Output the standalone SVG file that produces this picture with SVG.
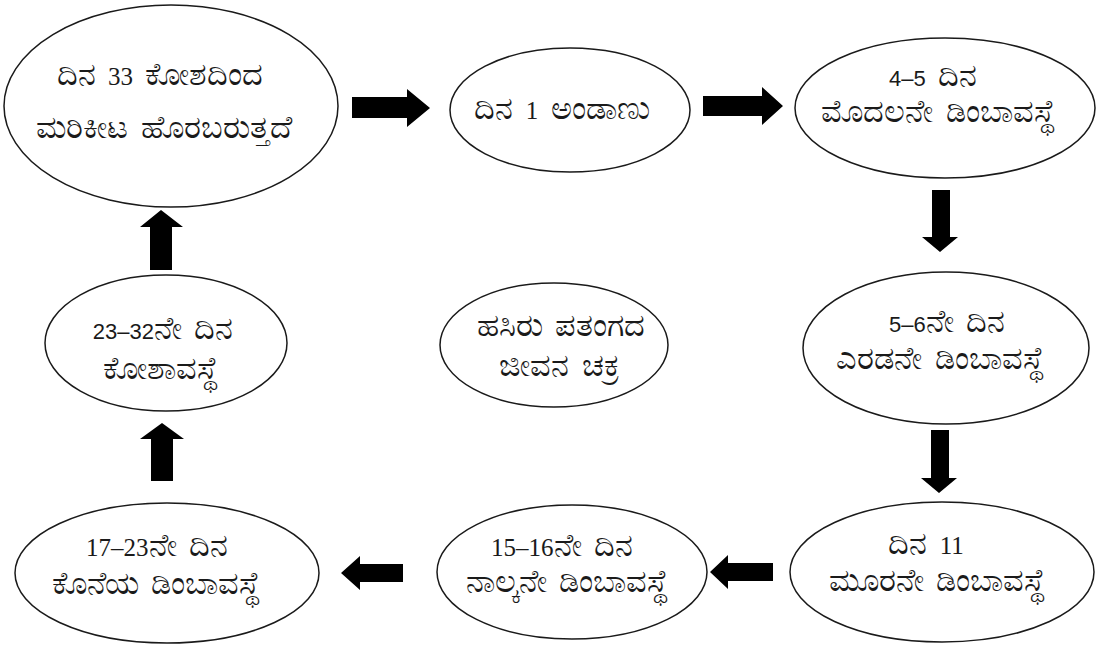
<svg xmlns="http://www.w3.org/2000/svg" width="1105" height="647" viewBox="0 0 1105 647">
  <style>
    .node ellipse { fill: #ffffff; stroke: #1a1a1a; stroke-width: 1.5; }
    .node text { font-family: "Noto Sans", "DejaVu Sans", sans-serif; font-size: 32px; fill: #1a1a1a; text-anchor: middle; word-spacing: 4px; }
    .node .ds { font-family: "Liberation Serif", serif; font-size: 25px; }
    .node .dn { font-family: "Liberation Sans", sans-serif; font-size: 22px; }
    .arrow { fill: #000000; stroke: none; }
  </style>
  <rect x="0" y="0" width="1105" height="647" fill="#ffffff"/>

  <g id="connectors">
    <polygon class="arrow" points="352,97 407,97 407,89 430,108 407,127 407,118 352,118"/>
    <polygon class="arrow" points="703,96 762,96 762,87 783,106 762,125 762,116 703,116"/>
    <polygon class="arrow" points="932,190 950,190 950,237 958,237 940,252 922,237 932,237"/>
    <polygon class="arrow" points="931,430 949,430 949,478 957,478 939,493 921,478 931,478"/>
    <polygon class="arrow" points="773,563 728,563 728,555 710,572 728,589 728,581 773,581"/>
    <polygon class="arrow" points="403,564 360,564 360,556 341,573 360,590 360,582 403,582"/>
    <polygon class="arrow" points="150,270 150,227 140,227 161,210 183,227 172,227 172,270"/>
    <polygon class="arrow" points="151,481 151,439 140,439 162,423 184,439 173,439 173,481"/>
  </g>

  <g id="node-day33" class="node">
    <ellipse cx="171" cy="106" rx="167" ry="101"/>
    <text x="160" y="85">ದಿನ <tspan class="ds">33</tspan> ಕೋಶದಿಂದ</text>
    <text x="164" y="138">ಮರಿಕೀಟ ಹೊರಬರುತ್ತದೆ</text>
  </g>

  <g id="node-day1" class="node">
    <ellipse cx="570" cy="110" rx="120" ry="62"/>
    <text x="562" y="119">ದಿನ <tspan class="ds">1</tspan> ಅಂಡಾಣು</text>
  </g>

  <g id="node-first-instar" class="node">
    <ellipse cx="945" cy="108" rx="150" ry="70"/>
    <text x="933" y="86"><tspan class="dn">4–5</tspan> ದಿನ</text>
    <text x="938" y="122">ಮೊದಲನೇ ಡಿಂಬಾವಸ್ಥೆ</text>
  </g>

  <g id="node-second-instar" class="node">
    <ellipse cx="946" cy="348" rx="143" ry="76"/>
    <text x="947" y="332"><tspan class="dn">5–6</tspan>ನೇ ದಿನ</text>
    <text x="940" y="369">ಎರಡನೇ ಡಿಂಬಾವಸ್ಥೆ</text>
  </g>

  <g id="node-third-instar" class="node">
    <ellipse cx="942" cy="572" rx="152" ry="70"/>
    <text x="926" y="554">ದಿನ <tspan class="ds">11</tspan></text>
    <text x="937" y="591">ಮೂರನೇ ಡಿಂಬಾವಸ್ಥೆ</text>
  </g>

  <g id="node-fourth-instar" class="node">
    <ellipse cx="572" cy="572" rx="135" ry="67"/>
    <text x="562" y="556"><tspan class="ds">15–16</tspan>ನೇ ದಿನ</text>
    <text x="567" y="592">ನಾಲ್ಕನೇ ಡಿಂಬಾವಸ್ಥೆ</text>
  </g>

  <g id="node-final-instar" class="node">
    <ellipse cx="167" cy="573" rx="152" ry="70"/>
    <text x="157" y="556"><tspan class="ds">17–23</tspan>ನೇ ದಿನ</text>
    <text x="156" y="594">ಕೊನೆಯ ಡಿಂಬಾವಸ್ಥೆ</text>
  </g>

  <g id="node-pupa" class="node">
    <ellipse cx="166" cy="343" rx="121" ry="68"/>
    <text x="163" y="339"><tspan class="dn">23–32</tspan>ನೇ ದಿನ</text>
    <text x="160" y="379">ಕೋಶಾವಸ್ಥೆ</text>
  </g>

  <g id="node-title" class="node">
    <ellipse cx="554" cy="345" rx="114" ry="62"/>
    <text x="561" y="336">ಹಸಿರು ಪತಂಗದ</text>
    <text x="559" y="376">ಜೀವನ ಚಕ್ರ</text>
  </g>
</svg>
